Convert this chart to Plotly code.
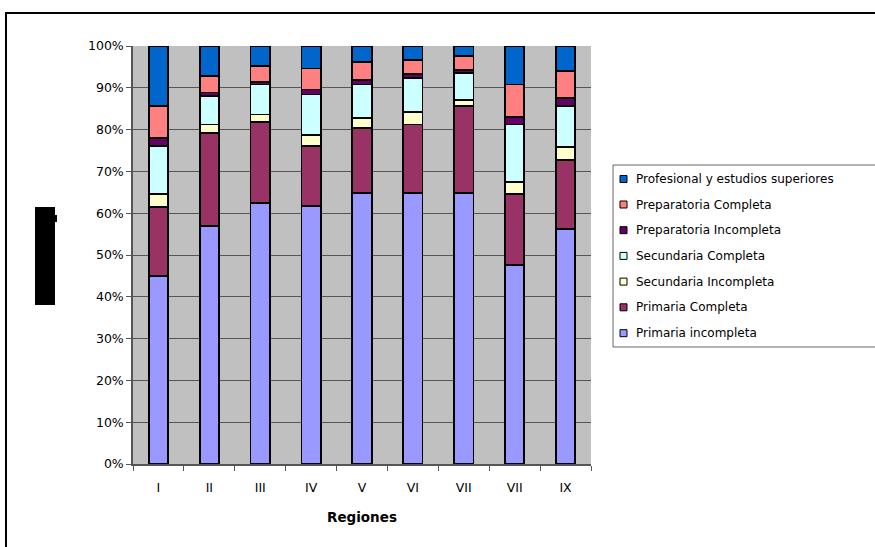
import plotly.graph_objects as go

# Regions (the eighth label is printed as "VII" in the source table)
regiones = ["I", "II", "III", "IV", "V", "VI", "VII", "VII", "IX"]

# Share of each schooling level per region, in percent
primaria_incompleta = [44.9, 56.9, 62.5, 61.7, 64.9, 64.9, 64.9, 47.7, 56.3]
primaria_completa = [16.6, 22.3, 19.3, 14.3, 15.4, 16.3, 20.7, 16.8, 16.4]
secundaria_incompleta = [3.0, 2.0, 1.8, 2.8, 2.4, 3.0, 1.4, 2.9, 3.2]
secundaria_completa = [11.5, 6.8, 7.2, 9.6, 8.1, 8.1, 6.6, 13.8, 9.7]
preparatoria_incompleta = [1.9, 0.9, 0.5, 1.2, 1.0, 1.0, 0.6, 1.9, 1.9]
preparatoria_completa = [7.7, 3.9, 3.9, 5.0, 4.3, 3.3, 3.4, 7.7, 6.6]
profesional = [14.4, 7.2, 4.8, 5.4, 3.9, 3.4, 2.4, 9.2, 5.9]

series = [
    ("Primaria incompleta", primaria_incompleta, "#9999FF"),
    ("Primaria Completa", primaria_completa, "#993366"),
    ("Secundaria Incompleta", secundaria_incompleta, "#FFFFCC"),
    ("Secundaria Completa", secundaria_completa, "#CCFFFF"),
    ("Preparatoria Incompleta", preparatoria_incompleta, "#660066"),
    ("Preparatoria Completa", preparatoria_completa, "#FF8080"),
    ("Profesional y estudios superiores", profesional, "#0066CC"),
]

W, H = 875, 547
L, R, T, B = 133, 591, 46, 464  # plot area in pixels

def px(x):
    return (x - L) / (R - L)

def py(y):
    return (B - y) / (B - T)

FONT = "DejaVu Sans"
xpos = list(range(1, len(regiones) + 1))

fig = go.Figure()
for name, vals, color in series:
    fig.add_trace(go.Bar(
        x=xpos, y=vals, name=name, width=0.38,
        marker=dict(color=color, line=dict(color="black", width=1.8)),
        showlegend=False,
    ))

shapes = []
annotations = []

# Page frame around the chart
shapes.append(dict(type="rect", xref="paper", yref="paper",
                   x0=px(6), x1=px(900), y0=py(13), y1=py(570),
                   line=dict(color="black", width=2), fillcolor="rgba(0,0,0,0)",
                   layer="below"))
# Blacked-out vertical axis caption
shapes.append(dict(type="rect", xref="paper", yref="paper",
                   x0=px(35), x1=px(55), y0=py(207), y1=py(305),
                   line=dict(width=0), fillcolor="black"))
shapes.append(dict(type="rect", xref="paper", yref="paper",
                   x0=px(54), x1=px(57), y0=py(215), y1=py(222),
                   line=dict(width=0), fillcolor="black"))

# Legend box
shapes.append(dict(type="rect", xref="paper", yref="paper",
                   x0=px(613), x1=px(900), y0=py(165), y1=py(347),
                   line=dict(color="#666666", width=1), fillcolor="white"))
row_y = [179, 204.5, 230.2, 255.9, 281.6, 307.3, 333.2]
for (name, vals, color), yy in zip(reversed(series), row_y):
    shapes.append(dict(type="rect", xref="paper", yref="paper",
                       x0=px(620), x1=px(627), y0=py(yy - 3.5), y1=py(yy + 3.5),
                       line=dict(color="black", width=1), fillcolor=color))
    annotations.append(dict(text=name, xref="paper", yref="paper",
                            x=px(634), y=py(yy), xanchor="left", yanchor="middle",
                            showarrow=False, font=dict(family=FONT, size=12, color="black")))

# Category axis caption
annotations.append(dict(text="<b>Regiones</b>", xref="paper", yref="paper",
                        x=0.5, y=py(517), xanchor="center", yanchor="middle",
                        showarrow=False, font=dict(family=FONT, size=13.5, color="black")))

fig.update_layout(
    width=W, height=H,
    margin=dict(l=L, r=W - R, t=T, b=H - B, autoexpand=False),
    paper_bgcolor="white",
    plot_bgcolor="#C0C0C0",
    barmode="stack",
    bargap=0.6,
    showlegend=False,
    shapes=shapes,
    annotations=annotations,
    font=dict(family=FONT, size=12, color="black"),
    xaxis=dict(
        range=[0.5, len(regiones) + 0.5],
        tickmode="array", tickvals=xpos, ticktext=regiones,
        ticks="", showgrid=False, zeroline=False,
        showline=True, linecolor="#555555", linewidth=1.5,
        ticklabelstandoff=11,
        minor=dict(tickvals=[i + 0.5 for i in range(len(regiones) + 1)],
                   ticks="outside", ticklen=5, tickwidth=1, tickcolor="#555555",
                   showgrid=False),
        tickfont=dict(family=FONT, size=12.5, color="black"),
        fixedrange=True,
    ),
    yaxis=dict(
        range=[0, 100], dtick=10, tick0=0, ticksuffix="%",
        ticks="outside", ticklen=5, tickwidth=1, tickcolor="#555555",
        showgrid=True, gridcolor="#555555", gridwidth=1.2,
        zeroline=False, showline=True, linecolor="#555555", linewidth=1.5,
        tickfont=dict(family=FONT, size=12.5, color="black"),
        fixedrange=True,
    ),
)

fig.write_html("out.html")
